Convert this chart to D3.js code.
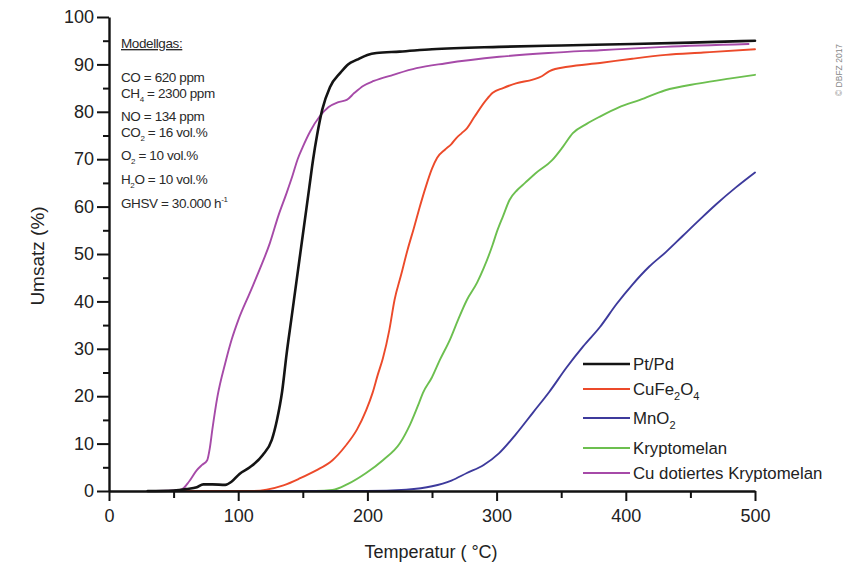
<!DOCTYPE html>
<html>
<head>
<meta charset="utf-8">
<script src="https://cdn.jsdelivr.net/npm/d3@7/dist/d3.min.js"></script>
<style>
  html, body { margin: 0; padding: 0; background: #fff; }
  svg { display: block; }
  text { font-family: "Liberation Sans", Arial, sans-serif; }
</style>
</head>
<body>
<svg id="chart" width="843" height="565"></svg>
<script>
// Conversion (%) over temperature (°C) for five catalysts
const seriesNames = ["Pt/Pd", "CuFe2O4", "MnO2", "Kryptomelan", "Cu dotiertes Kryptomelan"];
const seriesColors = ["#141414", "#ec4a2a", "#3d3a9c", "#6cbf4f", "#a64aa8"];

const ptPd = [[30,0],[50,0.1],[60,0.4],[68,0.8],[73,1.4],[80,1.4],[90,1.3],[95,2],[101,3.6],[109,5],[119,7.6],[126,10.8],[130,15],[134,21],[137.5,29],[141,36],[145,44],[150,54],[155,64],[158,70],[161,75],[165,80.4],[171,85.2],[179,88.2],[185,90],[192,91],[200,92],[207,92.4],[225,92.7],[250,93.2],[302,93.7],[350,94],[405,94.3],[450,94.6],[500,95]];
const cuFe2O4 = [[30,0],[110,0],[122,0.3],[135,1.2],[148,2.7],[160,4.3],[173,6.5],[183,9.5],[192,13],[199,17],[204,20.7],[208,24.5],[212,28],[217,34],[221,40.3],[226,45.5],[231,50.8],[236,55.5],[240.5,59.9],[245,64],[250,68],[254,70.3],[260,72],[265,73.2],[269,74.5],[273,75.5],[277,76.5],[283,79],[292,82.5],[297,84],[305,85],[315,86],[328,86.8],[335,87.5],[341,88.6],[355,89.5],[380,90.3],[405,91.2],[431,92],[460,92.5],[500,93.2]];
const mnO2 = [[30,0],[200,0],[230,0.3],[250,1],[265,2.2],[277,3.8],[290,5.5],[302,8],[315,12],[328,16.5],[341,21],[354,26],[367,30.5],[380,34.6],[393,39.5],[405,43.5],[418,47.3],[431,50.4],[444,53.8],[457,57.2],[470,60.5],[485,64],[500,67.2]];
const kryptomelan = [[30,0],[160,0],[173,0.2],[185,1.5],[199,3.8],[212,6.5],[225,10],[233,14],[240,18.6],[243,20.7],[250,24],[256,27.6],[264,32],[270,36],[277,40.3],[285,44],[290,47],[297,52],[300,54.5],[305,58],[310,61.4],[316,63.5],[322,65],[330,67],[343,69.8],[351,72.5],[359,75.5],[370,77.5],[380,79],[395,81],[411,82.5],[430,84.5],[457,86],[480,87],[500,87.8]];
const cuKryptomelan = [[30,0],[50,0.1],[56,0.3],[62,2],[68,4.4],[72,5.5],[76,6.5],[78,9],[80,13],[84,20],[90,27],[95,32],[100,36],[109,41.8],[117,47],[124.5,52.3],[131,58],[137.5,62.9],[142,66.5],[146,70],[150,72.6],[156,76],[163,79],[170,81],[177,82],[184,82.5],[190,84],[197,85.5],[205,86.5],[220,87.8],[238,89.2],[260,90.2],[302,91.6],[340,92.4],[380,93],[430,93.7],[495,94.3]];

const xTicks = [0, 100, 200, 300, 400, 500];
const xMinorTicks = [50, 150, 250, 350, 450];
const yTicks = [0, 10, 20, 30, 40, 50, 60, 70, 80, 90, 100];
const yMinorTicks = [5, 15, 25, 35, 45, 55, 65, 75, 85, 95];

const svg = d3.select("#chart");
const plotLeft = 109, plotRight = 755, plotTop = 17, plotBottom = 491;

svg.append("rect").attr("width", 843).attr("height", 565).attr("fill", "#fff");

const x = d3.scaleLinear().domain([0, 500]).range([plotLeft, plotRight]);
const y = d3.scaleLinear().domain([0, 100]).range([plotBottom, plotTop]);

// curves, drawn back-to-front so the black line sits on top
const allSeries = [ptPd, cuFe2O4, mnO2, kryptomelan, cuKryptomelan];
const line = d3.line().x(d => x(d[0])).y(d => y(d[1])).curve(d3.curveMonotoneX);
const drawOrder = [4, 3, 2, 1, 0];
const curves = svg.append("g").attr("fill", "none").attr("stroke-linejoin", "round").attr("stroke-linecap", "round");
drawOrder.forEach(i => {
  curves.append("path")
    .attr("d", line(allSeries[i]))
    .attr("stroke", seriesColors[i])
    .attr("stroke-width", i === 0 ? 2.6 : 1.9);
});

// axes
function styleAxis(g) {
  g.select(".domain").attr("stroke", "#111").attr("stroke-width", 2.4);
  g.selectAll(".tick line").attr("stroke", "#111").attr("stroke-width", 2);
  g.selectAll(".tick text").attr("fill", "#222").attr("font-size", 18)
    .attr("font-family", "'Liberation Sans', Arial, sans-serif");
}

svg.append("g").attr("transform", `translate(0,${plotBottom})`)
  .call(d3.axisBottom(x).tickValues(xMinorTicks).tickSize(7).tickFormat(""))
  .call(g => { g.select(".domain").remove(); g.selectAll(".tick line").attr("stroke", "#111").attr("stroke-width", 2); });
svg.append("g").attr("transform", `translate(${plotLeft},0)`)
  .call(d3.axisLeft(y).tickValues(yMinorTicks).tickSize(6).tickFormat(""))
  .call(g => { g.select(".domain").remove(); g.selectAll(".tick line").attr("stroke", "#111").attr("stroke-width", 2); });

svg.append("g").attr("transform", `translate(0,${plotBottom})`)
  .call(d3.axisBottom(x).tickValues(xTicks).tickSize(10).tickSizeOuter(0).tickPadding(8))
  .call(styleAxis);
svg.append("g").attr("transform", `translate(${plotLeft},0)`)
  .call(d3.axisLeft(y).tickValues(yTicks).tickSize(12).tickSizeOuter(0).tickPadding(3))
  .call(styleAxis);

// axis titles
svg.append("text")
  .attr("transform", `translate(44,${(plotTop + plotBottom) / 2 + 2}) rotate(-90)`)
  .attr("text-anchor", "middle").attr("font-size", 19).attr("fill", "#222")
  .text("Umsatz (%)");
svg.append("text")
  .attr("x", 431).attr("y", 558)
  .attr("text-anchor", "middle").attr("font-size", 18).attr("fill", "#222")
  .text("Temperatur ( °C)");

// gas composition note
const noteLines = [
  { y: 82,  parts: [["CO = 620 ppm"]] },
  { y: 98,  parts: [["CH"], ["4", "sub"], [" = 2300 ppm"]] },
  { y: 121, parts: [["NO = 134 ppm"]] },
  { y: 137, parts: [["CO"], ["2", "sub"], [" = 16 vol.%"]] },
  { y: 160, parts: [["O"], ["2", "sub"], [" = 10 vol.%"]] },
  { y: 184, parts: [["H"], ["2", "sub"], ["O = 10 vol.%"]] },
  { y: 208, parts: [["GHSV = 30.000 h"], ["-1", "sup"]] }
];
const note = svg.append("g").attr("fill", "#2a2a2a").attr("font-size", 13.5).attr("letter-spacing", -0.4);
note.append("text").attr("x", 121).attr("y", 48)
  .attr("text-decoration", "underline").text("Modellgas:");
noteLines.forEach(l => {
  const t = note.append("text").attr("x", 121).attr("y", l.y);
  let prevSub = false;
  l.parts.forEach(p => {
    const s = t.append("tspan").text(p[0]);
    if (p[1] === "sub") { s.attr("font-size", 8).attr("dy", 4); prevSub = true; }
    else if (p[1] === "sup") { s.attr("font-size", 8).attr("dy", -6); }
    else if (prevSub) { s.attr("dy", -4); prevSub = false; }
  });
});

// legend
const legendRows = [
  [["Pt/Pd"]],
  [["CuFe"], ["2", "sub"], ["O"], ["4", "sub"]],
  [["MnO"], ["2", "sub"]],
  [["Kryptomelan"]],
  [["Cu dotiertes Kryptomelan"]]
];
const legendY = [364, 389, 418, 448, 473];
const legend = svg.append("g");
legendRows.forEach((row, i) => {
  legend.append("line")
    .attr("x1", 583).attr("x2", 630)
    .attr("y1", legendY[i]).attr("y2", legendY[i])
    .attr("stroke", seriesColors[i]).attr("stroke-width", i === 0 ? 2.4 : 2);
  const t = legend.append("text").attr("x", 633).attr("y", legendY[i] + 6)
    .attr("font-size", 16.8).attr("fill", "#222");
  let prevSub = false;
  row.forEach(p => {
    const s = t.append("tspan").text(p[0]);
    if (p[1] === "sub") { s.attr("font-size", 11).attr("dy", 5); prevSub = true; }
    else if (prevSub) { s.attr("dy", -5); prevSub = false; }
  });
});

// copyright mark on the right edge
svg.append("text")
  .attr("transform", "translate(842,96) rotate(-90)")
  .attr("font-size", 8.5).attr("fill", "#888")
  .text("© DBFZ 2017");
</script>
</body>
</html>
